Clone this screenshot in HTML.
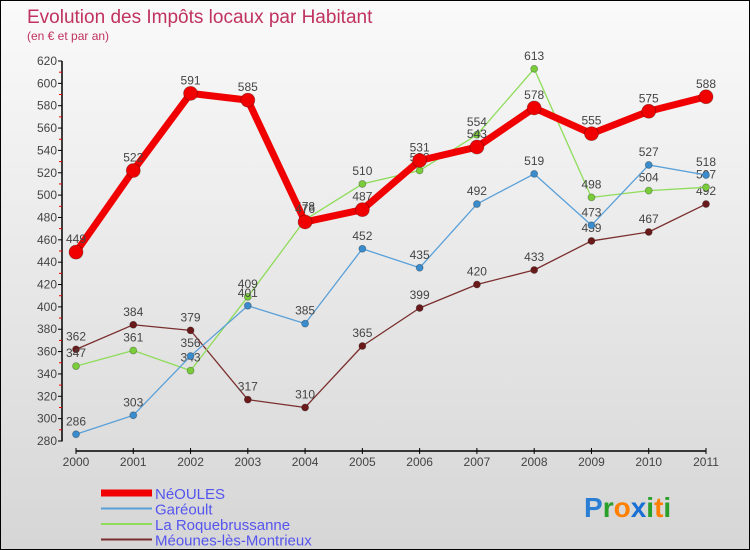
<!DOCTYPE html>
<html><head><meta charset="utf-8"><style>
body{margin:0}
#wrap{position:relative;width:748px;height:548px;border:1px solid #000;background:linear-gradient(#fafafa,#d6d6d6);overflow:hidden;font-family:"Liberation Sans",sans-serif}
</style></head><body>
<div id="wrap">
<svg id="c" width="748" height="548"></svg>
</div>
<script>
const years=["2000","2001","2002","2003","2004","2005","2006","2007","2008","2009","2010","2011"];
const neoules=[449,522,591,585,476,487,531,543,578,555,575,588];
const gareoult=[286,303,356,401,385,452,435,492,519,473,527,518];
const roque=[347,361,343,409,478,510,522,554,613,498,504,507];
const meounes=[362,384,379,317,310,365,399,420,433,459,467,492];
const yTicks=[280,300,320,340,360,380,400,420,440,460,480,500,520,540,560,580,600,620];
const names=["NéOULES","Garéoult","La Roquebrussanne","Méounes-lès-Montrieux"];
const NS="http://www.w3.org/2000/svg";
const svg=document.getElementById('c');
function X(i){return 75+i*(705-75)/(years.length-1);}
function Y(v){return 440-(v-280)*(440-60)/(620-280);}
function mk(t,a,p){const e=document.createElementNS(NS,t);for(const k in a)e.setAttribute(k,a[k]);(p||svg).appendChild(e);return e;}
let t=mk('text',{x:26,y:22,fill:'#c0325f','font-size':19});t.textContent="Evolution des Impôts locaux par Habitant";


t=mk('text',{x:26,y:39,fill:'#c0325f','font-size':12});t.textContent="(en € et par an)";


let ax=mk('line',{x1:61,y1:Y(620),x2:61,y2:Y(280)+0.5,stroke:'#000','stroke-width':1.5});


yTicks.forEach((v,i)=>{
 mk('line',{x1:57,x2:61,y1:Y(v),y2:Y(v),stroke:'#000'});
 if(i<yTicks.length-1)mk('line',{x1:58,x2:61,y1:Y(v+10),y2:Y(v+10),stroke:'#e00'});
 const l=mk('text',{x:56,y:Y(v)+4,'text-anchor':'end','font-size':12,fill:'#444'});l.textContent=v;
 
 
});
ax=mk('line',{x1:75,x2:705,y1:450,y2:450,stroke:'#000','stroke-width':1.5});


years.forEach((y,i)=>{
 mk('line',{x1:X(i),x2:X(i),y1:447,y2:453,stroke:'#000'});
 const l=mk('text',{x:X(i),y:465,'text-anchor':'middle','font-size':12,fill:'#444'});l.textContent=y;
 
 
});
const series=[[meounes,'#7a2e2e','#6a1a1a',1.3,3.5,'meounes'],[roque,'#8fdc5a','#7acc3a',1.3,3.5,'roquebrussanne'],[gareoult,'#5aa0d8','#3a8ccc',1.3,3.5,'gareoult'],[neoules,'#f00000','#f00000',7,7,'neoules']];
series.forEach(([d,c,dc,w,r,n])=>{
 const g=mk('g',{});
 
 
 const p=mk('polyline',{points:d.map((v,i)=>X(i)+','+Y(v)).join(' '),fill:'none',stroke:c,'stroke-width':w,'stroke-linejoin':'round'},g);
 
 
 d.forEach((v,i)=>{
  const pt=mk('circle',{cx:X(i),cy:Y(v),r:r,fill:dc,stroke:'rgba(0,0,0,0.3)','stroke-width':0.8},g);
  
  
  const l=mk('text',{x:X(i),y:Y(v)-9,'text-anchor':'middle','font-size':12,fill:'#444'},g);l.textContent=v;
  
  
 });
});
const lc=[['#f00000',7],['#5aa0d8',2],['#8fdc5a',2],['#7a2e2e',2]];
names.forEach((n,i)=>{
 const y=492+i*15.5;
 const g=mk('g',{});
 
 
 mk('line',{x1:100,x2:151,y1:y,y2:y,stroke:lc[i][0],'stroke-width':lc[i][1]},g);
 const l=mk('text',{x:154,y:y+6,'font-size':15,fill:'#5555ee'},g);l.textContent=n;
});
const logo=mk('text',{x:583,y:516,'font-size':28,'font-weight':'bold'});


[['P','#2a7fd4'],['r','#2aa02a'],['o','#ff8000'],['x','#1a6fd4'],['i','#2aa02a'],['t','#ff8000'],['i','#2a9f2a']].forEach(([ch,c])=>{const s=mk('tspan',{fill:c},logo);s.textContent=ch;});
</script>
</body></html>
